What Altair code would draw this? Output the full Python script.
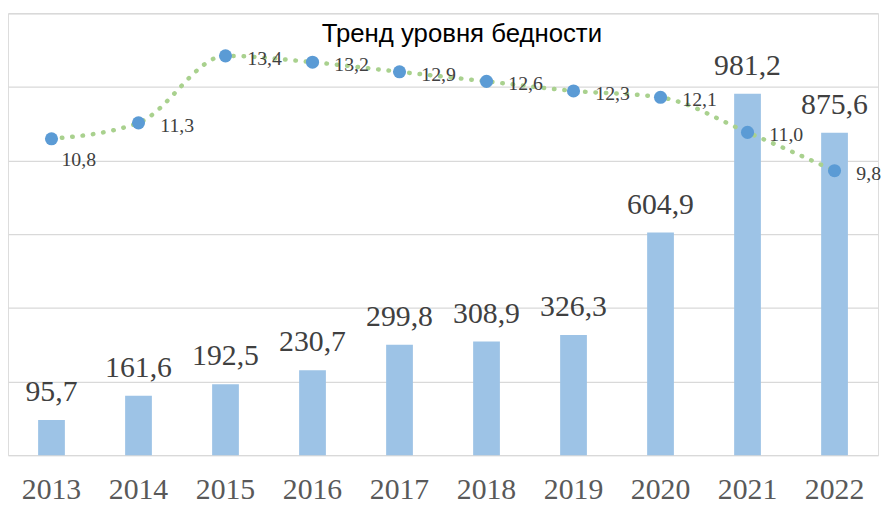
import altair as alt
import pandas as pd

years = ["2013", "2014", "2015", "2016", "2017", "2018", "2019", "2020", "2021", "2022"]
income = [95.7, 161.6, 192.5, 230.7, 299.8, 308.9, 326.3, 604.9, 981.2, 875.6]
poverty = [10.8, 11.3, 13.4, 13.2, 12.9, 12.6, 12.3, 12.1, 11.0, 9.8]
title_text = "Тренд уровня бедности"

df = pd.DataFrame({
    "year": years,
    "income": income,
    "poverty": poverty,
    "income_lbl": [f"{v:.1f}".replace(".", ",") for v in income],
    "poverty_lbl": [f"{v:.1f}".replace(".", ",") for v in poverty],
})

x = alt.X("year:O", title=None,
          scale=alt.Scale(paddingInner=0, paddingOuter=0),
          axis=alt.Axis(labelAngle=0, domain=False, ticks=False,
                        labelFont="Liberation Serif", labelFontSize=30,
                        labelColor="#595959", labelPadding=20))

ybar = alt.Y("income:Q", title=None,
             scale=alt.Scale(domain=[0, 1200], nice=False),
             axis=alt.Axis(values=[0, 200, 400, 600, 800, 1000, 1200],
                           labels=False, ticks=False, domain=False,
                           grid=True, gridColor="#d9d9d9", gridWidth=1.3))

base = alt.Chart(df)

bars = base.mark_bar(size=27, color="#9dc3e6").encode(x=x, y=ybar)
bar_text = base.mark_text(font="Liberation Serif", fontSize=30, color="#404040",
                          baseline="alphabetic", dy=-19).encode(
    x=x, y=ybar, text="income_lbl:N")

bar_layer = alt.layer(bars, bar_text)

yline = alt.Y("poverty:Q", title=None,
              scale=alt.Scale(domain=[0.885, 14.735], nice=False, zero=False),
              axis=None)

line = base.mark_line(color="#a9d18e", strokeWidth=4.5, strokeDash=[0.5, 10],
                      strokeCap="round", interpolate="monotone").encode(x=x, y=yline)
points = base.mark_point(filled=True, size=175, color="#5b9bd5", opacity=1).encode(x=x, y=yline)
line_text = base.mark_text(font="Liberation Serif", fontSize=20, color="#404040",
                           align="left", baseline="middle", dx=22, dy=3).encode(
    x=x, y=yline, text="poverty_lbl:N").transform_filter(alt.datum.year != "2013")
line_text_first = base.mark_text(font="Liberation Serif", fontSize=20, color="#404040",
                                 align="left", baseline="middle", dx=10, dy=21).encode(
    x=x, y=yline, text="poverty_lbl:N").transform_filter(alt.datum.year == "2013")

line_layer = alt.layer(line, points, line_text, line_text_first)

chart = alt.layer(bar_layer, line_layer).resolve_scale(y="independent").properties(
    width=878, height=446,
    autosize=alt.AutoSizeParams(type="none"),
    padding={"left": 0, "top": 3, "right": 3, "bottom": 50},
    title=alt.TitleParams(title_text, font="Liberation Sans", fontSize=26,
                          fontWeight="normal", color="#000000",
                          anchor="middle", frame="group", dx=19, dy=38),
).configure_view(stroke=None).configure(background="white")

chart.save("out.html", embed_options={"renderer": "svg", "actions": False})
